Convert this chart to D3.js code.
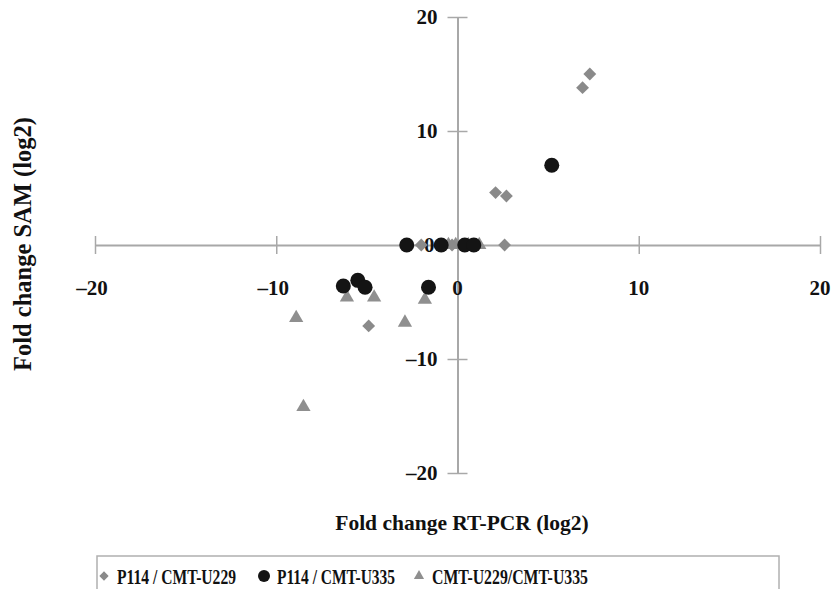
<!DOCTYPE html>
<html>
<head>
<meta charset="utf-8">
<script src="https://cdn.jsdelivr.net/npm/d3@7"></script>
<style>
  body { margin: 0; background: #fff; }
  svg text { font-family: "Liberation Serif", "Times New Roman", serif; font-weight: bold; fill: #111; }
</style>
</head>
<body>
<div id="chart"></div>
<script>
// Fold change values: [RT-PCR, SAM]
const seriesNames = ['P114 / CMT-U229', 'P114 / CMT-U335', 'CMT-U229/CMT-U335'];
const p114U229 = [[6.9, 13.8], [7.3, 15.0], [2.1, 4.6], [2.7, 4.3], [2.6, 0], [-2.0, 0], [-0.3, 0], [-4.9, -7.1]];
const p114U335 = [[5.2, 7.0], [-2.8, 0], [-0.9, 0], [0.4, 0], [0.9, 0], [-6.3, -3.6], [-5.5, -3.1], [-5.1, -3.7], [-1.6, -3.7]];
const u229U335 = [[-6.1, -4.6], [-4.6, -4.6], [-1.8, -4.8], [-8.9, -6.4], [-2.9, -6.8], [-8.5, -14.2], [-0.5, 0], [-0.1, 0], [0.6, 0], [1.2, 0]];
const xTicks = [-20, -10, 0, 10, 20];
const yTicks = [-20, -10, 10, 20];

const width = 834, height = 589;
const svg = d3.select('#chart').append('svg')
  .attr('width', width).attr('height', height);

const x = d3.scaleLinear().domain([-20, 20]).range([95, 820]);
const y = d3.scaleLinear().domain([-20, 20]).range([473, 17]);

const axisColor = '#a8a8a8';
const fmt = d => d < 0 ? '\u2013' + Math.abs(d) : String(d);

// horizontal axis through y = 0
const xAxis = d3.axisBottom(x).tickValues(xTicks).tickSizeInner(0).tickSizeOuter(0).tickFormat('');
const gx = svg.append('g').attr('transform', `translate(0,${y(0)})`).call(xAxis);
gx.select('.domain').attr('stroke', axisColor).attr('stroke-width', 2);
gx.selectAll('.tick line').remove();
gx.selectAll('.tick').append('line')
  .attr('y1', -9).attr('y2', 9).attr('stroke', axisColor).attr('stroke-width', 1.5);

// vertical axis through x = 0
const yAxis = d3.axisLeft(y).tickValues(xTicks).tickSizeInner(0).tickSizeOuter(0).tickFormat('');
const gy = svg.append('g').attr('transform', `translate(${x(0)},0)`).call(yAxis);
gy.select('.domain').attr('stroke', axisColor).attr('stroke-width', 2);
gy.selectAll('.tick line').remove();
gy.selectAll('.tick').append('line')
  .attr('x1', -10).attr('x2', 10).attr('stroke', axisColor).attr('stroke-width', 1.5);

// tick labels
svg.append('g').selectAll('text').data(xTicks).join('text')
  .attr('x', d => x(d) + (d < 0 ? -3 : 0)).attr('y', y(0) + 50)
  .attr('text-anchor', 'middle').attr('font-size', 21)
  .text(fmt);

svg.append('g').selectAll('text').data(yTicks).join('text')
  .attr('x', x(0) - 20).attr('y', d => y(d) + 7)
  .attr('text-anchor', 'end').attr('font-size', 21)
  .text(fmt);

svg.append('text').attr('x', x(0) - 23).attr('y', y(0) + 7)
  .attr('text-anchor', 'end').attr('font-size', 21).text('0');

// axis titles
svg.append('text').attr('x', 462).attr('y', 530)
  .attr('text-anchor', 'middle').attr('font-size', 21.5)
  .text('Fold change RT-PCR (log2)');
svg.append('text')
  .attr('transform', 'translate(31,244) rotate(-90)')
  .attr('text-anchor', 'middle').attr('font-size', 24.5)
  .text('Fold change SAM (log2)');

// markers
const diamond = d3.symbol().type(d3.symbolDiamond2).size(105);
const triangle = d3.symbol().type(d3.symbolTriangle).size(88);

svg.append('g').selectAll('path').data(u229U335).join('path')
  .attr('d', triangle)
  .attr('transform', d => `translate(${x(d[0])},${y(d[1])})`)
  .attr('fill', '#8f8f8f');

svg.append('g').selectAll('path').data(p114U229).join('path')
  .attr('d', diamond)
  .attr('transform', d => `translate(${x(d[0])},${y(d[1])})`)
  .attr('fill', '#8a8a8a');

svg.append('g').selectAll('circle').data(p114U335).join('circle')
  .attr('cx', d => x(d[0])).attr('cy', d => y(d[1]))
  .attr('r', 7.5).attr('fill', '#141414');

// legend
const legend = svg.append('g');
legend.append('rect')
  .attr('x', 97).attr('y', 556).attr('width', 682).attr('height', 40)
  .attr('fill', '#fff').attr('stroke', '#b0b0b0').attr('stroke-width', 1.5);

const legendItems = [
  { name: seriesNames[0], kind: 'diamond', x: 104, len: 119 },
  { name: seriesNames[1], kind: 'circle', x: 264, len: 118 },
  { name: seriesNames[2], kind: 'triangle', x: 419, len: 156 }
];
legendItems.forEach(it => {
  const cy = 576;
  if (it.kind === 'diamond') {
    legend.append('path').attr('d', d3.symbol().type(d3.symbolDiamond2).size(55)())
      .attr('transform', `translate(${it.x},${cy})`).attr('fill', '#8a8a8a');
  } else if (it.kind === 'circle') {
    legend.append('circle').attr('cx', it.x).attr('cy', cy).attr('r', 6).attr('fill', '#141414');
  } else {
    legend.append('path').attr('d', d3.symbol().type(d3.symbolTriangle).size(45)())
      .attr('transform', `translate(${it.x},${cy})`).attr('fill', '#8f8f8f');
  }
  legend.append('text').attr('x', it.x + 13).attr('y', 584)
    .attr('font-size', 22)
    .attr('textLength', it.len).attr('lengthAdjust', 'spacingAndGlyphs')
    .text(it.name);
});
</script>
</body>
</html>
